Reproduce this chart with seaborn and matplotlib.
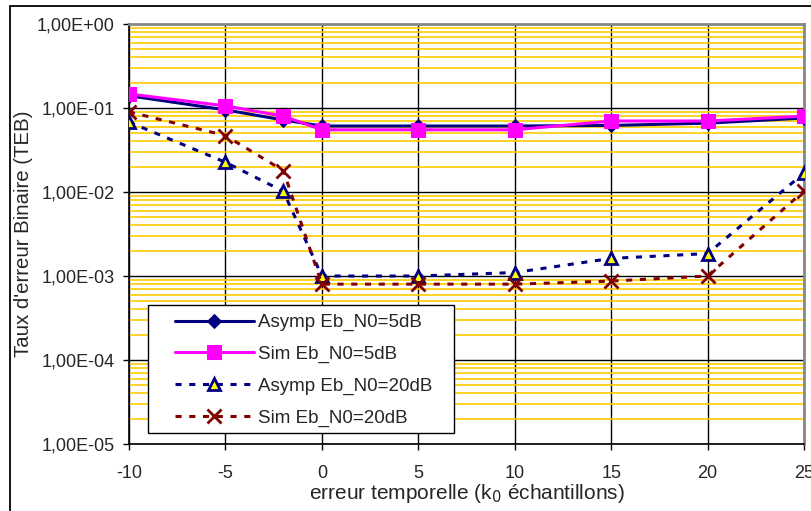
import matplotlib
matplotlib.use("Agg")
import matplotlib.pyplot as plt
import matplotlib.ticker as mticker
from matplotlib.patches import Rectangle
import numpy as np
import pandas as pd
import seaborn as sns

# --- data ---
k0 = [-10, -5, -2, 0, 5, 10, 15, 20, 25]
asymp_5db = [0.140, 0.095, 0.072, 0.061, 0.061, 0.061, 0.062, 0.066, 0.076]
sim_5db = [0.147, 0.106, 0.080, 0.055, 0.055, 0.055, 0.070, 0.070, 0.080]
asymp_20db = [0.068, 0.0226, 0.0102, 0.00100, 0.00100, 0.00110, 0.00162, 0.00185, 0.0168]
sim_20db = [0.090, 0.047, 0.018, 0.00080, 0.00080, 0.00080, 0.00087, 0.00100, 0.0103]

y_ticks = [1e-5, 1e-4, 1e-3, 1e-2, 1e-1, 1e0]
x_ticks = [-10, -5, 0, 5, 10, 15, 20, 25]

sns.set_style("white")
plt.rcParams["font.family"] = ["Liberation Sans", "DejaVu Sans"]
plt.rcParams["axes.unicode_minus"] = False

NAVY = "#000080"
MAGENTA = "#FF00FF"
DARKRED = "#800000"
DASH = (0, (2, 2.5))

fig = plt.figure(figsize=(8.11, 5.11), dpi=100)
ax = fig.add_axes([129 / 811, 1 - 444 / 511, 675 / 811, 420 / 511])

# chart-area frame (clipped on right/bottom like the reference)
fig.patches.append(Rectangle((10 / 811, -0.1), 1.2, 1 - 6 / 511 + 0.1,
                             transform=fig.transFigure, fill=False,
                             edgecolor="black", linewidth=1.3, zorder=0))

df = pd.DataFrame({"k0": k0, "a5": asymp_5db, "s5": sim_5db,
                   "a20": asymp_20db, "s20": sim_20db})

sns.lineplot(data=df, x="k0", y="a5", ax=ax, color=NAVY, linewidth=2.2,
             marker="D", markersize=7, markeredgecolor=NAVY,
             label="Asymp Eb_N0=5dB", zorder=5)
sns.lineplot(data=df, x="k0", y="s5", ax=ax, color=MAGENTA, linewidth=2.2,
             marker="s", markersize=10, markeredgecolor=MAGENTA,
             label="Sim Eb_N0=5dB", zorder=6)
sns.lineplot(data=df, x="k0", y="a20", ax=ax, color=NAVY, linewidth=2.2,
             linestyle=DASH, marker="^", markersize=9,
             markerfacecolor="#FFFF00", markeredgecolor=NAVY,
             markeredgewidth=2, label="Asymp Eb_N0=20dB", zorder=4)
sns.lineplot(data=df, x="k0", y="s20", ax=ax, color=DARKRED, linewidth=2.2,
             linestyle=DASH, marker="x", markersize=10,
             markeredgecolor=DARKRED, markeredgewidth=2,
             label="Sim Eb_N0=20dB", zorder=4)

ax.set_yscale("log")
ax.set_ylim(1e-5, 1e0)
ax.set_xlim(-10, 25)
ax.set_xticks(x_ticks)
ax.set_yticks(y_ticks)
ax.yaxis.set_major_formatter(mticker.FuncFormatter(
    lambda v, _: f"{v:.2E}".replace(".", ",")))
ax.yaxis.set_minor_locator(mticker.LogLocator(base=10, subs=np.arange(2, 10)))
ax.yaxis.set_minor_formatter(mticker.NullFormatter())

ax.grid(True, which="minor", axis="y", color="#FFCC00", linewidth=1.2, zorder=0)
ax.grid(True, which="major", axis="y", color="black", linewidth=1.0, zorder=1)
ax.grid(True, which="major", axis="x", color="black", linewidth=1.0, zorder=1)
ax.set_axisbelow(True)

ax.tick_params(axis="both", which="major", direction="out", length=4.3,
               width=1, color="black", labelsize=13, left=True, bottom=True)
ax.tick_params(axis="y", which="minor", length=0)
ax.tick_params(axis="y", pad=6)
ax.tick_params(axis="x", pad=11)

for side in ["left", "bottom"]:
    ax.spines[side].set_color("black")
    ax.spines[side].set_linewidth(1.2)
for side in ["right", "top"]:
    ax.spines[side].set_color("#888888")
    ax.spines[side].set_linewidth(2)

ax.set_xlabel("erreur temporelle (k$_0$ échantillons)", fontsize=15, labelpad=0)
ax.set_ylabel("Taux d'erreur Binaire (TEB)", fontsize=14.7)
ax.yaxis.set_label_coords((33 - 129) / 675, 0.5)

# legend box drawn as a white patch, entries placed on top of it
ax.add_patch(Rectangle((19 / 675, 11 / 420), 306 / 675, 128 / 420,
                       transform=ax.transAxes, facecolor="white",
                       edgecolor="black", linewidth=1.0, zorder=7))
leg = ax.legend(loc="upper left", bbox_to_anchor=(46 / 675, 130 / 420),
                frameon=False, fontsize=13.5, handlelength=4.2,
                borderpad=0, borderaxespad=0, labelspacing=0.77,
                handletextpad=0.25)
leg.set_zorder(8)

fig.savefig("out.png", dpi=100)
